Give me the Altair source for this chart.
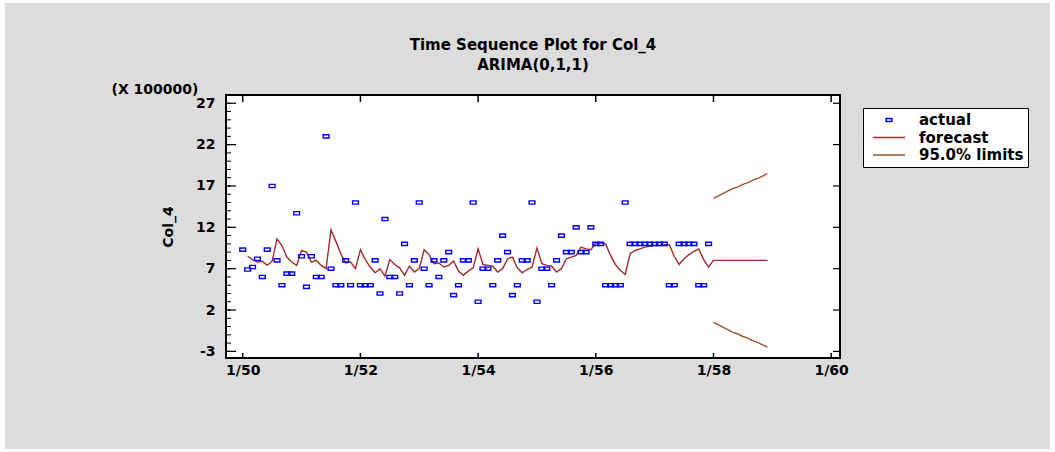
import altair as alt
import pandas as pd

# ---------------- data ----------------
# monthly observations, 1/50 .. 12/57 (units of 100000)
actual = [
    9.3, 6.9, 7.2, 8.2, 6.0, 9.3, 17.0, 8.0, 5.0, 6.4, 6.4, 13.7,
    8.5, 4.8, 8.5, 6.0, 6.0, 23.0, 7.0, 5.0, 5.0, 8.0, 5.0, 15.0,
    5.0, 5.0, 5.0, 8.0, 4.0, 13.0, 6.0, 6.0, 4.0, 10.0, 5.0, 8.0,
    15.0, 7.0, 5.0, 8.0, 6.0, 8.0, 9.0, 3.8, 5.0, 8.0, 8.0, 15.0,
    3.0, 7.0, 7.0, 5.0, 8.0, 11.0, 9.0, 3.8, 5.0, 8.0, 8.0, 15.0,
    3.0, 7.0, 7.0, 5.0, 8.0, 11.0, 9.0, 9.0, 12.0, 9.0, 9.0, 12.0,
    10.0, 10.0, 5.0, 5.0, 5.0, 5.0, 15.0, 10.0, 10.0, 10.0, 10.0, 10.0,
    10.0, 10.0, 10.0, 5.0, 5.0, 10.0, 10.0, 10.0, 10.0, 5.0, 5.0, 10.0,
]
# one-step-ahead forecasts, 2/50 .. 12/57
forecast_fit = [
    8.5, 8.1, 7.8, 7.9, 7.4, 7.9, 10.6, 9.8, 8.4, 7.8, 7.4,
    9.2, 9.0, 7.8, 8.0, 7.4, 7.0, 11.7, 10.3, 8.8, 7.7, 7.8, 7.0,
    9.3, 8.1, 7.2, 6.5, 7.0, 6.1, 8.1, 7.5, 7.1, 6.2, 7.3, 6.6,
    7.0, 9.3, 8.7, 7.6, 7.7, 7.2, 7.4, 7.9, 6.7, 6.2, 6.7, 7.1,
    9.4, 7.5, 7.4, 7.3, 6.6, 7.0, 8.2, 8.4, 7.1, 6.5, 6.9, 7.2,
    9.5, 7.6, 7.4, 7.3, 6.6, 7.0, 8.2, 8.4, 8.6, 9.6, 9.4, 9.3,
    10.1, 10.1, 10.0, 8.6, 7.5, 6.8, 6.3, 8.8, 9.2, 9.4, 9.6, 9.7,
    9.8, 9.8, 9.9, 9.9, 8.5, 7.5, 8.2, 8.7, 9.1, 9.4, 8.1, 7.2,
]
# forecasts for 1/58 .. 12/58 and their 95% limits
forecast_ahead = [8.0, 8.0, 8.0, 8.0, 8.0, 8.0, 8.0, 8.0, 8.0, 8.0, 8.0, 8.0]
upper_limit = [15.5, 15.8, 16.1, 16.4, 16.7, 16.9, 17.2, 17.4, 17.7, 17.9, 18.2, 18.5]
lower_limit = [0.5, 0.2, -0.1, -0.4, -0.7, -0.9, -1.2, -1.4, -1.7, -1.9, -2.2, -2.5]

series_names = ["actual", "forecast", "95.0% limits"]
series_colors = ["#0000FF", "#A52A2A", "#A0522D"]

y_major = [-3, 2, 7, 12, 17, 22, 27]
y_minor = list(range(-3, 28))
x_ticks = [1950, 1952, 1954, 1956, 1958, 1960]
x_tick_labels = ["1/50", "1/52", "1/54", "1/56", "1/58", "1/60"]

start_year = 1950
FONT = "DejaVu Sans"

# ---------------- layout ----------------
PL, PT = 226, 95          # plot-area origin in the page
W, H = 614, 263           # plot-area size


def t(i):
    return start_year + i / 12.0


df_actual = pd.DataFrame({
    "x": [t(i) for i in range(len(actual))],
    "y": actual,
    "series": ["actual"] * len(actual),
})
fc_all = forecast_fit + forecast_ahead
df_fc = pd.DataFrame({"x": [t(i + 1) for i in range(len(fc_all))], "y": fc_all})
n0 = len(actual)
df_lim = pd.DataFrame({
    "x": [t(n0 + k) for k in range(len(upper_limit))] + [t(n0 + k) for k in range(len(lower_limit))],
    "y": upper_limit + lower_limit,
    "bound": ["upper"] * len(upper_limit) + ["lower"] * len(lower_limit),
})
df_ymaj = pd.DataFrame({"y": y_major})
df_ymin = pd.DataFrame({"y": y_minor})
df_xt = pd.DataFrame({"x": x_ticks})

xscale = alt.Scale(domain=[1949.716, 1960.15], nice=False, zero=False)
yscale = alt.Scale(domain=[-3.8, 28], nice=False, zero=False)

label_expr = " : ".join(
    f"datum.value == {v} ? '{l}'" for v, l in zip(x_ticks, x_tick_labels)
) + " : ''"

xaxis = alt.Axis(
    values=x_ticks, labelExpr=label_expr, title=None, domain=False, ticks=False,
    grid=False, labelFont=FONT, labelFontSize=14, labelFontWeight="bold",
    labelColor="black", labelPadding=5, labelFlush=False, labelOverlap=False,
    zindex=2,
)
yaxis = alt.Axis(
    values=y_major, labelExpr="'' + datum.value", title="Col_4",
    titleX=-58, titleY=H / 2, titleAngle=270, titleAlign="center",
    titleBaseline="middle", titleFont=FONT, titleFontSize=14,
    titleFontWeight="bold", titleColor="black", domain=False, ticks=False,
    grid=False, labelFont=FONT, labelFontSize=14, labelFontWeight="bold",
    labelColor="black", labelPadding=11, labelFlush=False, labelOverlap=False,
    zindex=2,
)

X = alt.X("x:Q", scale=xscale, axis=xaxis)
Y = alt.Y("y:Q", scale=yscale, axis=yaxis)

one = alt.Data(values=[{}])

bg = alt.Chart(one).mark_rect(color="#DCDCDC").encode(
    x=alt.value(5 - PL), x2=alt.value(1050 - PL),
    y=alt.value(3 - PT), y2=alt.value(449 - PT),
)
plotbg = alt.Chart(one).mark_rect(color="white").encode(
    x=alt.value(0), x2=alt.value(W), y=alt.value(0), y2=alt.value(H)
)

tick_minor = alt.Chart(df_ymin).mark_rule(color="black", strokeWidth=1).encode(
    y=Y, x=alt.value(0), x2=alt.value(5)
)
tick_major = alt.Chart(df_ymaj).mark_rule(color="black", strokeWidth=1.2).encode(
    y=Y, x=alt.value(0), x2=alt.value(10)
)
tick_right = alt.Chart(df_ymaj).mark_rule(color="black", strokeWidth=1.2).encode(
    y=Y, x=alt.value(W - 7), x2=alt.value(W)
)
tick_bottom = alt.Chart(df_xt).mark_rule(color="black", strokeWidth=1.5).encode(
    x=X, y=alt.value(H - 5), y2=alt.value(H)
)
tick_top = alt.Chart(df_xt).mark_rule(color="black", strokeWidth=1.5).encode(
    x=X, y=alt.value(0), y2=alt.value(7)
)

fc_line = alt.Chart(df_fc).mark_line(color=series_colors[1], strokeWidth=1.4).encode(x=X, y=Y)
lim_line = alt.Chart(df_lim).mark_line(color=series_colors[2], strokeWidth=1.4).encode(
    x=X, y=Y, detail="bound:N"
)

s = 7.0  # sqrt(size)/2 for size 196
square_path = f"M{-2.9/s:.3f},{-1.6/s:.3f}H{2.9/s:.3f}V{1.6/s:.3f}H{-2.9/s:.3f}Z"
line_path = f"M{-16/s:.3f},0H{16/s:.3f}"

leg = alt.Legend(
    title=None, orient="none", legendX=637, legendY=13, fillColor="white",
    strokeColor="black", padding=4, labelFont=FONT, labelFontSize=15,
    labelFontWeight="bold", labelColor="black", symbolSize=196,
    symbolStrokeWidth=1.5, symbolOffset=14, labelOffset=22, rowPadding=1.5,
)

points = alt.Chart(df_actual).mark_point(
    filled=False, size=196, strokeWidth=1.4, opacity=1
).encode(
    x=X, y=Y,
    color=alt.Color("series:N", scale=alt.Scale(domain=series_names, range=series_colors), legend=leg),
    shape=alt.Shape("series:N", scale=alt.Scale(domain=series_names, range=[square_path, line_path, line_path]), legend=leg),
)

frame = alt.Chart(one).mark_rect(filled=False, color="black", strokeWidth=2).encode(
    x=alt.value(0), x2=alt.value(W), y=alt.value(0), y2=alt.value(H)
)

scale_note = alt.Chart(one).mark_text(
    text="(X 100000)", font=FONT, fontSize=14, fontWeight="bold",
    align="center", baseline="middle", color="black",
).encode(x=alt.value(155 - PL), y=alt.value(90 - PT))

chart = alt.layer(
    bg, plotbg, tick_minor, tick_major, tick_right, tick_bottom, tick_top,
    fc_line, lim_line, points, frame, scale_note,
).properties(
    width=W, height=H,
    padding={"left": PL, "top": PT, "right": 1055 - PL - W, "bottom": 452 - PT - H},
    autosize=alt.AutoSizeParams(type="none"),
    background="white",
    title=alt.Title(
        ["Time Sequence Plot for Col_4", "ARIMA(0,1,1)"], font=FONT, fontSize=15,
        fontWeight="bold", color="black", anchor="middle", offset=0, dy=85,
        baseline="bottom", lineHeight=20, frame="group", zindex=3,
    ),
).configure_view(stroke=None)

chart.save("out.html", embed_options={"renderer": "svg", "actions": False})
